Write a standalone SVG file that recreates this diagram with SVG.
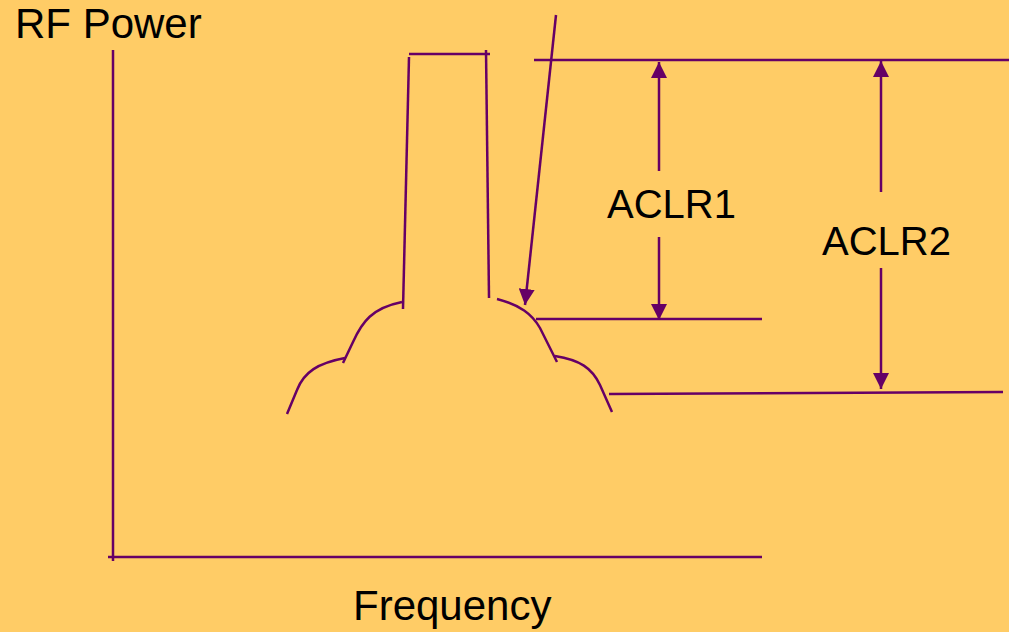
<svg xmlns="http://www.w3.org/2000/svg" width="1009" height="632" viewBox="0 0 1009 632">
<style>
.ln{stroke:#660066;stroke-width:2.5;fill:none;stroke-linecap:butt}
.t{font-family:"Liberation Sans",Arial,sans-serif;font-size:40px;fill:#000}
.big{font-size:42px}
</style>
<defs>
<marker id="ah" viewBox="0 0 16 16" refX="16" refY="8" markerWidth="16" markerHeight="16" markerUnits="userSpaceOnUse" orient="auto">
<path d="M0,0 L16,8 L0,16 z" fill="#660066"/>
</marker>
</defs>
<rect width="1009" height="632" fill="#FFCC66"/>
<g id="axes">
<line class="ln" x1="113" y1="50" x2="113" y2="561"/>
<line class="ln" x1="108" y1="557" x2="762" y2="557"/>
</g>
<g id="spectrum">
<line class="ln" x1="409" y1="54" x2="490" y2="54"/>
<line class="ln" x1="409" y1="57" x2="403" y2="309"/>
<line class="ln" x1="486" y1="50" x2="489" y2="298"/>
<path class="ln" d="M402,302 C372,308 362,322 353,342 L343,363"/>
<path class="ln" d="M345,358 C318,363 304,372 297,390 L287,414"/>
<path class="ln" d="M497,299 C520,305 532,314 540,328 L557,362"/>
<path class="ln" d="M555,356 C580,360 592,368 600,385 L612,412"/>
</g>
<g id="levels">
<line class="ln" x1="534" y1="60" x2="1009" y2="60"/>
<line class="ln" x1="536" y1="319" x2="762" y2="319"/>
<line class="ln" x1="609" y1="394" x2="1003" y2="392"/>
</g>
<g id="connectors">
<line class="ln" x1="556" y1="15" x2="525" y2="305" marker-end="url(#ah)"/>
<line class="ln" x1="659" y1="171" x2="659" y2="62" marker-end="url(#ah)"/>
<line class="ln" x1="659" y1="237" x2="659" y2="320" marker-end="url(#ah)"/>
<line class="ln" x1="881" y1="192" x2="881" y2="61" marker-end="url(#ah)"/>
<line class="ln" x1="881" y1="268" x2="881" y2="389" marker-end="url(#ah)"/>
</g>
<g id="labels">
<text class="t big" x="15" y="38">RF Power</text>
<text class="t big" x="353" y="620">Frequency</text>
<text class="t" x="607" y="218">ACLR1</text>
<text class="t" x="822" y="255">ACLR2</text>
</g>
</svg>
